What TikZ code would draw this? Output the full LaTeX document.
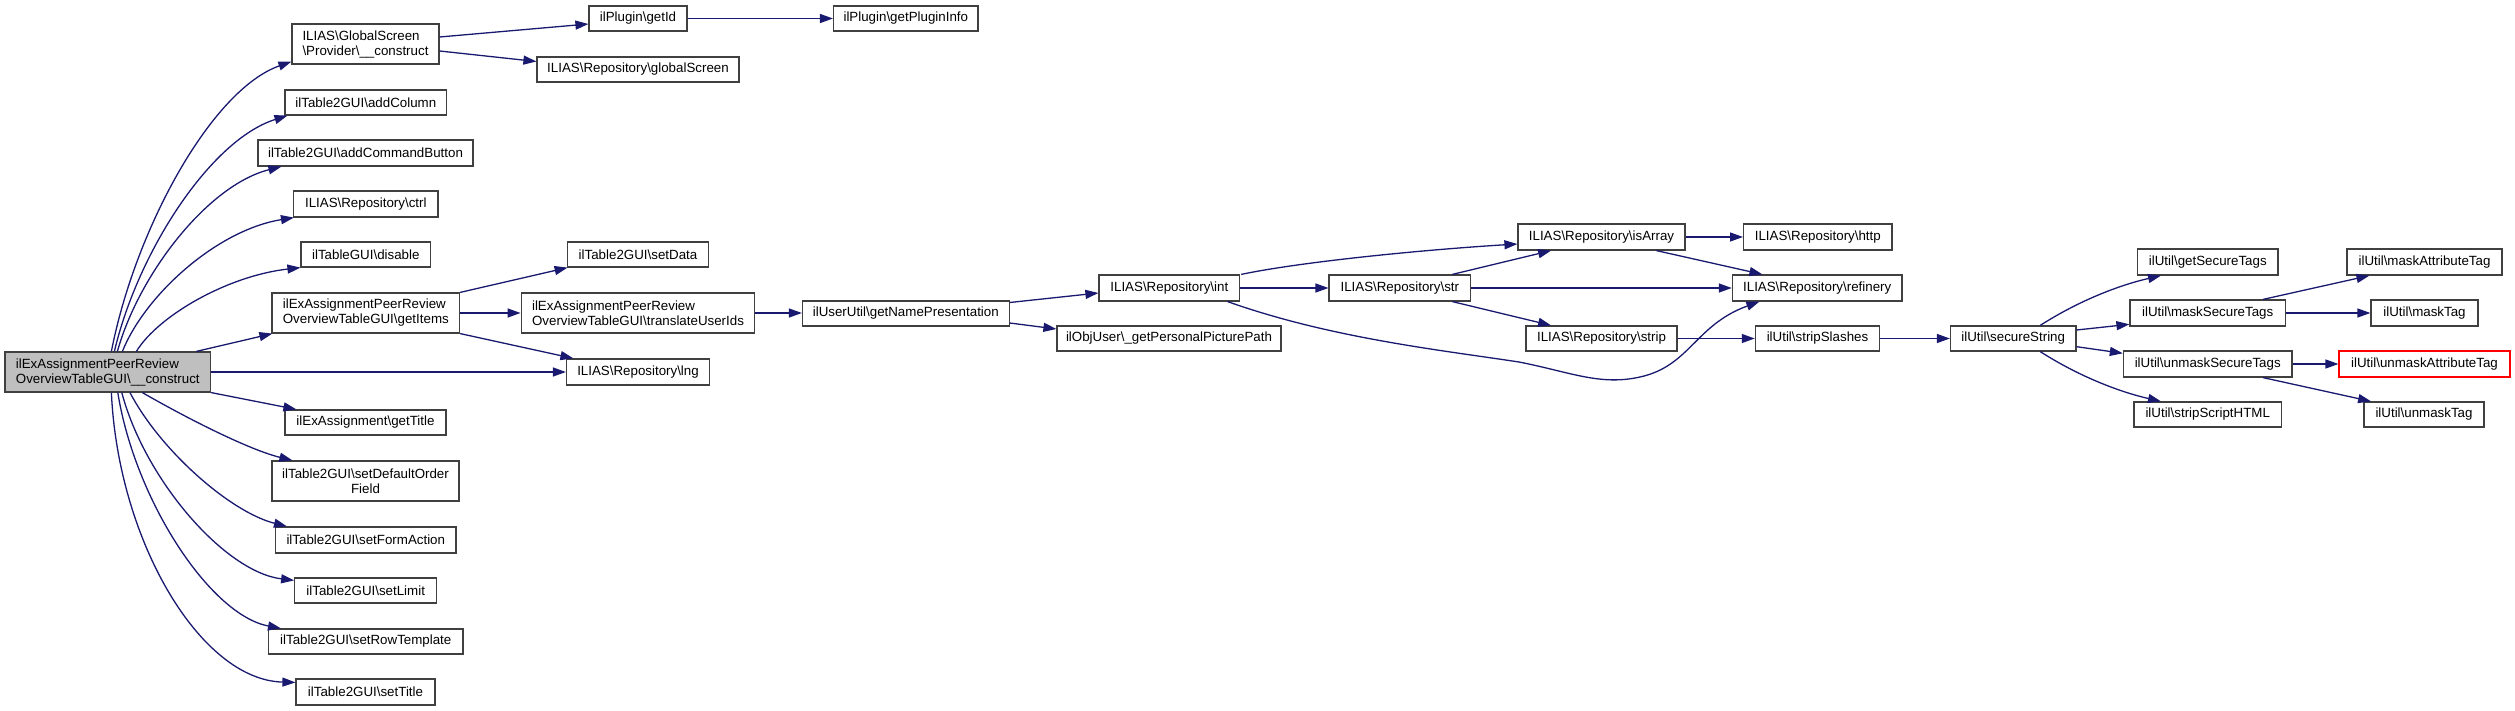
\documentclass[tikz,border=0pt]{standalone}
\usepackage{fontspec}
\setmainfont{Liberation Sans}
\usetikzlibrary{arrows.meta,calc}
\definecolor{edgec}{HTML}{191970}
\definecolor{nodeb}{HTML}{404040}
\definecolor{mainf}{HTML}{BFBFBF}
\newcommand{\bksl}{\textbackslash}
\tikzset{
  box/.style={draw=nodeb, line width=1.2pt, fill=white, inner sep=0pt,
    font=\fontsize{13.33}{15}\selectfont},
  lbox/.style={box, align=left},
  cbox/.style={box, align=center},
  rbox/.style={box, draw=red},
  mbox/.style={box, fill=mainf, align=left},
  edge/.style={draw=edgec, line width=1.3pt, -{Triangle[length=13pt,width=9pt]}},
}
\begin{document}
\begin{tikzpicture}[x=1pt,y=-1pt]
\useasboundingbox (0,0) rectangle (2515,711);
% rank 0
\node[mbox, minimum width=205.6pt, minimum height=40pt] (main) at (107.8,372) {ilExAssignmentPeerReview\\OverviewTableGUI\bksl\_\_construct};
% rank 1
\node[lbox, minimum width=147pt, minimum height=40pt] (gs) at (365.5,44) {ILIAS\bksl GlobalScreen\\\bksl Provider\bksl\_\_construct};
\node[box, minimum width=161.5pt, minimum height=25pt] (addcol) at (365.8,102.5) {ilTable2GUI\bksl addColumn};
\node[box, minimum width=215pt, minimum height=26pt] (addcmd) at (365.5,153) {ilTable2GUI\bksl addCommandButton};
\node[box, minimum width=144.5pt, minimum height=26pt] (ctrl) at (365.8,204) {ILIAS\bksl Repository\bksl ctrl};
\node[box, minimum width=129.6pt, minimum height=25pt] (disable) at (365.8,254.5) {ilTableGUI\bksl disable};
\node[lbox, minimum width=187.6pt, minimum height=40pt] (getitems) at (365.8,313) {ilExAssignmentPeerReview\\OverviewTableGUI\bksl getItems};
\node[box, minimum width=161pt, minimum height=25pt] (gettitle) at (365.5,422.5) {ilExAssignment\bksl getTitle};
\node[cbox, minimum width=187pt, minimum height=40pt] (setdef) at (365.5,481) {ilTable2GUI\bksl setDefaultOrder\\Field};
\node[box, minimum width=180.5pt, minimum height=26pt] (setform) at (365.8,540) {ilTable2GUI\bksl setFormAction};
\node[box, minimum width=142pt, minimum height=25pt] (setlimit) at (365.7,590.5) {ilTable2GUI\bksl setLimit};
\node[box, minimum width=194.4pt, minimum height=25pt] (setrow) at (365.8,641.5) {ilTable2GUI\bksl setRowTemplate};
\node[box, minimum width=139pt, minimum height=26pt] (settitle) at (365.5,692) {ilTable2GUI\bksl setTitle};
% rank 2
\node[box, minimum width=98pt, minimum height=25pt] (getid) at (638,18.5) {ilPlugin\bksl getId};
\node[box, minimum width=202pt, minimum height=25pt] (globalscreen) at (638,69.5) {ILIAS\bksl Repository\bksl globalScreen};
\node[box, minimum width=141.6pt, minimum height=25pt] (setdata) at (638,254.5) {ilTable2GUI\bksl setData};
\node[lbox, minimum width=233.7pt, minimum height=40pt] (translate) at (638,313) {ilExAssignmentPeerReview\\OverviewTableGUI\bksl translateUserIds};
\node[box, minimum width=143pt, minimum height=26pt] (lng) at (638,372) {ILIAS\bksl Repository\bksl lng};
% rank 3
\node[box, minimum width=144.5pt, minimum height=25pt] (getplugininfo) at (905.8,18.5) {ilPlugin\bksl getPluginInfo};
\node[box, minimum width=206.6pt, minimum height=25pt] (getname) at (905.8,313.5) {ilUserUtil\bksl getNamePresentation};
% rank 4
\node[box, minimum width=140.6pt, minimum height=26pt] (int) at (1169.3,288) {ILIAS\bksl Repository\bksl int};
\node[box, minimum width=224pt, minimum height=25pt] (picpath) at (1169,338.5) {ilObjUser\bksl\_getPersonalPicturePath};
% rank 5
\node[box, minimum width=141.5pt, minimum height=26pt] (str) at (1399.8,288) {ILIAS\bksl Repository\bksl str};
% rank 6
\node[box, minimum width=167pt, minimum height=26pt] (isarray) at (1601.5,237) {ILIAS\bksl Repository\bksl isArray};
\node[box, minimum width=151pt, minimum height=25pt] (strip) at (1601.5,338.5) {ILIAS\bksl Repository\bksl strip};
% rank 7
\node[box, minimum width=148.4pt, minimum height=26pt] (http) at (1817.8,237) {ILIAS\bksl Repository\bksl http};
\node[box, minimum width=169.6pt, minimum height=26pt] (refinery) at (1817.2,288) {ILIAS\bksl Repository\bksl refinery};
\node[box, minimum width=124.3pt, minimum height=25pt] (stripslashes) at (1817.5,338.5) {ilUtil\bksl stripSlashes};
% rank 8
\node[box, minimum width=125.5pt, minimum height=25pt] (securestring) at (2013.2,338.5) {ilUtil\bksl secureString};
% rank 9
\node[box, minimum width=140.4pt, minimum height=26pt] (getsecure) at (2207.8,262) {ilUtil\bksl getSecureTags};
\node[box, minimum width=155.4pt, minimum height=26pt] (masksecure) at (2207.7,313) {ilUtil\bksl maskSecureTags};
\node[box, minimum width=168.6pt, minimum height=26pt] (unmasksecure) at (2207.7,364) {ilUtil\bksl unmaskSecureTags};
\node[box, minimum width=147.4pt, minimum height=25pt] (stripscript) at (2207.7,414.5) {ilUtil\bksl stripScriptHTML};
% rank 10
\node[box, minimum width=155pt, minimum height=26pt] (maskattr) at (2424.5,262) {ilUtil\bksl maskAttributeTag};
\node[box, minimum width=107pt, minimum height=26pt] (masktag) at (2424.5,313) {ilUtil\bksl maskTag};
\node[rbox, minimum width=171pt, minimum height=26pt] (unmaskattr) at (2424.5,364) {ilUtil\bksl unmaskAttributeTag};
\node[box, minimum width=120pt, minimum height=25pt] (unmasktag) at (2424,414.5) {ilUtil\bksl unmaskTag};

% edges from main
\draw[edge] ($(main.north west)+(107,0)$) .. controls (135,230) and (211,90) .. ($(gs.south west)+(0,-3)$);
\draw[edge] ($(main.north west)+(110,0)$) .. controls (137.5,253) and (210,140) .. ($(addcol.south west)+(3,0)$);
\draw[edge] ($(main.north west)+(113,0)$) .. controls (139,274) and (208,185) .. ($(addcmd.south west)+(24,0)$);
\draw[edge] ($(main.north west)+(118,0)$) .. controls (145,295) and (217,230) .. ($(ctrl.south west)+(1,0)$);
\draw[edge] ($(main.north west)+(132,0)$) .. controls (158,316) and (227,276) .. (disable.south west);
\draw[edge] ($(main.north west)+(192,0)$) -- ($(getitems.south west)+(1,0)$);
\draw[edge] (main.east) -- (lng.west);
\draw[edge] (main.south east) -- ($(gettitle.north west)+(12,0)$);
\draw[edge] ($(main.south west)+(138,0)$) .. controls (190,420) and (250,450) .. ($(setdef.north west)+(21,0)$);
\draw[edge] ($(main.south west)+(125.6,0)$) .. controls (160,450) and (230,512) .. ($(setform.north west)+(12,0)$);
\draw[edge] ($(main.south west)+(117.4,0)$) .. controls (145,480) and (225,572) .. ($(setlimit.north west)+(0,3)$);
\draw[edge] ($(main.south west)+(113.4,0)$) .. controls (135,500) and (210,615) .. ($(setrow.north west)+(13,0)$);
\draw[edge] ($(main.south west)+(107,0)$) .. controls (118,540) and (200,680) .. ($(settitle.north west)+(0,4)$);
% rank 1 out
\draw[edge] ($(gs.east)+(0,-7)$) -- ($(getid.west)+(0,5.5)$);
\draw[edge] ($(gs.east)+(0,7)$) -- ($(globalscreen.west)+(0,-8)$);
\draw[edge] (getid.east) -- (getplugininfo.west);
\draw[edge] (getitems.north east) -- ($(setdata.south west)+(1,0)$);
\draw[edge] (getitems.east) -- (translate.west);
\draw[edge] (getitems.south east) -- ($(lng.north west)+(7.5,0)$);
\draw[edge] (translate.east) -- (translate.east -| getname.west);
% rank 3 out
\draw[edge] ($(getname.east)+(0,-11)$) -- ($(int.west)+(0,5)$);
\draw[edge] ($(getname.east)+(0,9.5)$) -- ($(picpath.west)+(0,-9.5)$);
% int out
\draw[edge] ($(int.north east)+(1,0)$) .. controls (1300,262) and (1420,250) .. ($(isarray.west)+(0,7)$);
\draw[edge] (int.east) -- (str.west);
\draw[edge] ($(int.south east)+(-12.6,0)$) .. controls (1330,338) and (1440,350) .. (1519,362)
  .. controls (1570,372) and (1600,386) .. (1640,377)
  .. controls (1690,366) and (1695,325) .. ($(refinery.south west)+(27.6,0)$);
% str out
\draw[edge] ($(str.north east)+(-18.8,0)$) -- ($(isarray.south west)+(33.7,0)$);
\draw[edge] (str.east) -- (refinery.west);
\draw[edge] ($(str.south east)+(-18.8,0)$) -- ($(strip.north west)+(25.7,0)$);
% isArray out
\draw[edge] (isarray.east) -- (http.west);
\draw[edge] ($(isarray.south east)+(-29.2,0)$) -- ($(refinery.north west)+(30.6,0)$);
% strip chain
\draw[edge] (strip.east) -- (stripslashes.west);
\draw[edge] (stripslashes.east) -- (securestring.west);
% secureString out
\draw[edge] ($(securestring.north)+(27,0)$) .. controls (2080,300) and (2120,285) .. ($(getsecure.south west)+(24,0)$);
\draw[edge] ($(securestring.east)+(0,-8.5)$) -- ($(masksecure.west)+(0,11.3)$);
\draw[edge] ($(securestring.east)+(0,8.2)$) -- ($(unmasksecure.west)+(0,-10.7)$);
\draw[edge] ($(securestring.south)+(27,0)$) .. controls (2080,377) and (2120,392) .. ($(stripscript.north west)+(27.6,0)$);
% rank 9 out
\draw[edge] ($(masksecure.north)+(55.3,0)$) -- ($(maskattr.south west)+(23,0)$);
\draw[edge] (masksecure.east) -- (masktag.west);
\draw[edge] (unmasksecure.east) -- (unmaskattr.west);
\draw[edge] ($(unmasksecure.south)+(55.3,0)$) -- ($(unmasktag.north west)+(7.7,0)$);
\end{tikzpicture}
\end{document}
